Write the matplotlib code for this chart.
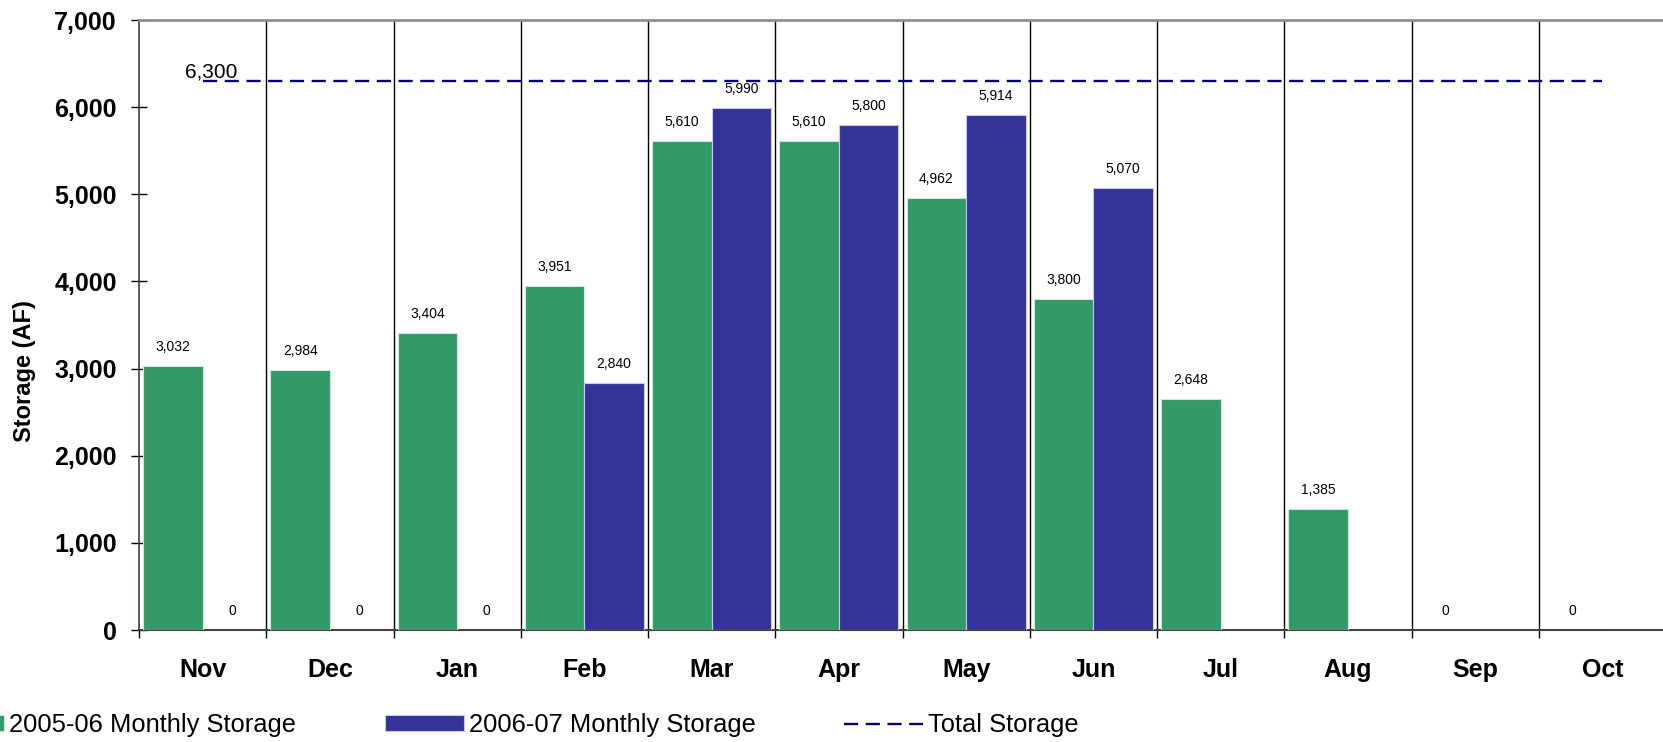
import numpy as np
import matplotlib
matplotlib.use("Agg")
import matplotlib.pyplot as plt
from matplotlib.ticker import FuncFormatter, FixedLocator

plt.rcParams['font.family'] = ['Liberation Sans', 'DejaVu Sans']

months = ["Nov", "Dec", "Jan", "Feb", "Mar", "Apr", "May", "Jun", "Jul", "Aug", "Sep", "Oct"]
storage_2005_06 = [3032, 2984, 3404, 3951, 5610, 5610, 4962, 3800, 2648, 1385, 0, 0]
storage_2006_07 = [0, 0, 0, 2840, 5990, 5800, 5914, 5070, np.nan, np.nan, np.nan, np.nan]
total_storage = [6300, 6300, 6300, 6300, 6300, 6300, 6300, 6300, 6300, 6300, 6300, 6300]
total_label = "6,300"

green = "#339966"
blue = "#333399"
navy = "#000080"

W, H = 1663, 742
fig = plt.figure(figsize=(W / 100, H / 100), dpi=100)
ax = fig.add_axes([139 / W, 1 - 630 / H, (1666 - 139) / W, (630 - 20) / H])

x = np.arange(len(months))
bw = 0.467
b1 = ax.bar(x - bw / 2, storage_2005_06, width=bw, color=green, edgecolor="#cfe8d8",
            linewidth=0.8, label="2005-06 Monthly Storage", zorder=3)
b2 = ax.bar(x + bw / 2, np.nan_to_num(storage_2006_07), width=bw, color=blue, edgecolor="#c8c8e8",
            linewidth=0.8, label="2006-07 Monthly Storage", zorder=3)
ln, = ax.plot(x, total_storage, color=navy, lw=1.7, dashes=(6, 3.2), label="Total Storage", zorder=4)

def fmt(v):
    return f"{int(round(v)):,}"

for xi, v in zip(x, storage_2005_06):
    if not np.isnan(v):
        ax.annotate(fmt(v), (xi - bw / 2, v), xytext=(0, 12), textcoords="offset pixels",
                    ha="center", va="bottom", fontsize=10, color="black", zorder=5)
for xi, v in zip(x, storage_2006_07):
    if not np.isnan(v):
        ax.annotate(fmt(v), (xi + bw / 2, v), xytext=(0, 12), textcoords="offset pixels",
                    ha="center", va="bottom", fontsize=10, color="black", zorder=5)

ax.annotate(total_label, (x[0], total_storage[0]), xytext=(-18, -1), textcoords="offset pixels",
            ha="left", va="bottom", fontsize=15, color="black", zorder=5)

ax.set_xlim(-0.5, len(months) - 0.5)
ax.set_ylim(0, 7000)

# vertical separators
for k in range(1, len(months)):
    ax.axvline(k - 0.5, color="black", lw=1.0, zorder=2)

ax.yaxis.set_major_locator(FixedLocator(np.arange(0, 7001, 1000)))
ax.yaxis.set_major_formatter(FuncFormatter(lambda v, p: f"{int(v):,}"))
ax.tick_params(axis="y", direction="inout", length=11, width=1, pad=10.5,
               labelsize=18)
for lab in ax.get_yticklabels():
    lab.set_fontweight("bold")

ax.xaxis.set_major_locator(FixedLocator(np.arange(-0.5, len(months), 1.0)))
ax.xaxis.set_major_formatter(FuncFormatter(lambda v, p: ""))
ax.xaxis.set_minor_locator(FixedLocator(x))
ax.set_xticklabels(months, minor=True)
ax.tick_params(axis="x", which="major", direction="out", length=6, width=1)
ax.tick_params(axis="x", which="minor", length=0, pad=20.5, labelsize=18)
for lab in ax.get_xticklabels(minor=True):
    lab.set_fontweight("bold")

ax.set_ylabel("Storage (AF)", fontsize=17, fontweight="bold", va="center", ha="center")
ax.yaxis.set_label_coords(25 / W, 0.5, transform=fig.transFigure)

for s in ["top", "right"]:
    ax.spines[s].set_color("#909090")
    ax.spines[s].set_linewidth(2)
ax.spines["left"].set_color("#404040")
ax.spines["bottom"].set_color("#404040")
ax.spines["left"].set_linewidth(1.2)
ax.spines["bottom"].set_linewidth(1.5)

leg = fig.legend(handles=[b1, b2, ln], loc="center left",
                 bbox_to_anchor=(-75 / W, 1 - 725 / H), ncol=3, frameon=False,
                 fontsize=18.4, handlelength=3.1, handleheight=0.55, handletextpad=0.2,
                 columnspacing=3.45, borderpad=0, borderaxespad=0)

fig.savefig("out.png", dpi=100)
